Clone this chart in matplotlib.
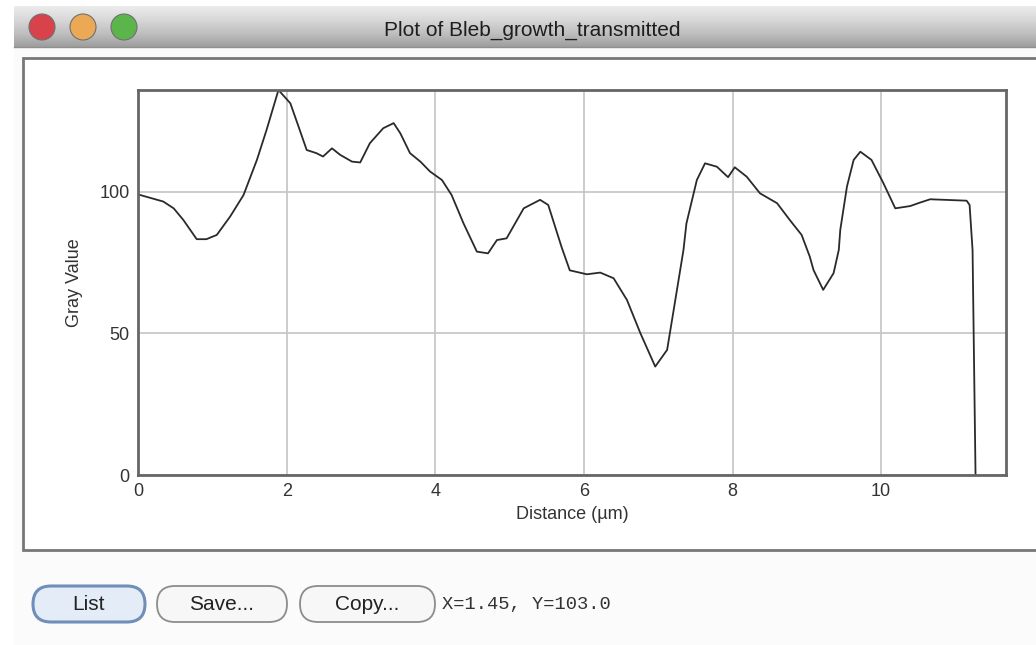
import matplotlib.pyplot as plt
import numpy as np
from matplotlib.patches import Rectangle, FancyBboxPatch, Circle

# profile
distance_um = [0.0, 0.03, 0.34, 0.48, 0.61, 0.79, 0.92, 1.06, 1.24, 1.42,
               1.60, 1.73, 1.89, 2.05, 2.16, 2.27, 2.40, 2.49, 2.61, 2.72,
               2.88, 2.99, 3.12, 3.30, 3.44, 3.53, 3.66, 3.80, 3.93, 4.09,
               4.22, 4.38, 4.56, 4.71, 4.83, 4.96, 5.19, 5.41, 5.52, 5.70,
               5.81, 6.04, 6.22, 6.40, 6.58, 6.76, 6.96, 7.12, 7.23, 7.34,
               7.38, 7.52, 7.63, 7.79, 7.94, 8.03, 8.19, 8.37, 8.60, 8.77,
               8.93, 9.04, 9.09, 9.22, 9.36, 9.43, 9.45, 9.54, 9.63, 9.72,
               9.87, 10.03, 10.19, 10.39, 10.52, 10.66, 11.15, 11.19, 11.23, 11.27]
gray_value = [99.0, 98.9, 96.6, 94.2, 90.1, 83.3, 83.3, 84.8, 91.3, 98.9,
              111.3, 121.9, 136.0, 131.3, 123.1, 114.8, 113.7, 112.5, 115.4, 113.1,
              110.7, 110.4, 117.2, 122.5, 124.3, 120.7, 113.7, 110.7, 107.2, 104.2,
              98.9, 88.9, 78.9, 78.3, 83.0, 83.6, 94.2, 97.2, 95.4, 80.5,
              72.3, 70.9, 71.5, 69.5, 61.8, 50.1, 38.3, 44.2, 61.8, 79.5,
              88.9, 104.2, 110.1, 108.9, 105.2, 108.7, 105.4, 99.5, 96.0, 90.1,
              84.8, 77.1, 72.4, 65.4, 71.3, 79.5, 86.6, 101.9, 111.3, 114.2,
              111.3, 103.1, 94.2, 95.0, 96.2, 97.4, 96.9, 95.4, 79.5, 0.0]
x_ticks = [0, 2, 4, 6, 8, 10]
y_ticks = [0, 50, 100]

plt.rcParams['font.family'] = ['Liberation Sans', 'DejaVu Sans']

W, H = 1036, 645
fig = plt.figure(figsize=(W / 100, H / 100), dpi=100)
fig.patch.set_facecolor('white')

#window chrome drawn in pixel coords
bg = fig.add_axes([0, 0, 1, 1])
bg.set_xlim(0, W)
bg.set_ylim(H, 0)
bg.axis('off')

bg.add_patch(Rectangle((14, 6), W - 14, H - 6, color='#fbfbfb', zorder=0))
grad = np.linspace(0, 1, 64).reshape(-1, 1)
bg.imshow(grad, cmap='Greys', vmin=-0.45, vmax=2.6, extent=[14, W, 47, 6],
          aspect='auto', zorder=1)
bg.plot([14, W], [47, 47], color='#8f8f8f', lw=1, zorder=2)
for cx, col in zip([42, 83, 124], ['#d8424a', '#eba955', '#5bb54a']):
    bg.add_patch(Circle((cx, 27), 13, facecolor=col, edgecolor='#707070',
                        lw=0.8, zorder=3))
bg.text(532, 30, 'Plot of Bleb_growth_transmitted', ha='center', va='center',
        fontsize=15, color='#1e1e1e', zorder=3)

# plot canvas
bg.add_patch(Rectangle((23, 58), W - 20, 492, facecolor='white',
                       edgecolor='#777777', lw=2, zorder=2))

# buttons (pill shaped)
buttons = [('List', 33, 112), ('Save...', 157, 130), ('Copy...', 300, 135)]
for i, (label, bx, bw) in enumerate(buttons):
    fc = '#e3ecf7' if i == 0 else '#f7f7f7'
    ec = '#6f8fb8' if i == 0 else '#8c8c8c'
    bg.add_patch(FancyBboxPatch((bx + 18, 604), bw - 36, 0,
                                boxstyle='round,pad=18,rounding_size=18',
                                facecolor=fc, edgecolor=ec, lw=2.2 if i == 0 else 1.3,
                                zorder=3))
    bg.text(bx + bw / 2, 604, label, ha='center', va='center', fontsize=15,
            color='#222222', zorder=4)
bg.text(442, 604, 'X=1.45, Y=103.0', ha='left', va='center', fontsize=13.5,
        family='Liberation Mono', color='#333333', zorder=4)

# the actual plot
left, right, top, bottom = 138, 1006, 90, 475
ax = fig.add_axes([left / W, 1 - bottom / H, (right - left) / W, (bottom - top) / H])
ax.set_zorder(5)
ax.plot(distance_um, gray_value, color='#2a2a2a', lw=1.3)
ax.set_xlim(0, 11.68)
ax.set_ylim(0, 136)
ax.set_xticks(x_ticks)
ax.set_yticks(y_ticks)
ax.grid(True, color='#c4c4c4', lw=1.2)
ax.tick_params(length=0, labelsize=13, colors='#333333', pad=6)
for s in ax.spines.values():
    s.set_color('#666666')
    s.set_linewidth(2)
ax.set_xlabel('Distance (µm)', fontsize=13, color='#333333', labelpad=4)
ax.set_ylabel('Gray Value', fontsize=13, color='#333333', labelpad=12)

fig.savefig('out.png', dpi=100)
